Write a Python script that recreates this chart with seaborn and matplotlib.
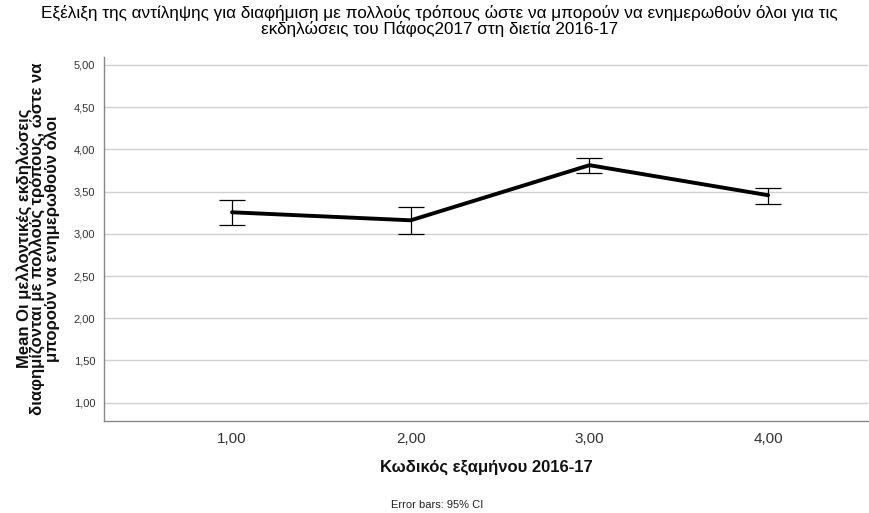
import matplotlib
matplotlib.use('Agg')
import matplotlib.pyplot as plt
import seaborn as sns

# values
codes = [1.0, 2.0, 3.0, 4.0]
tick_labels = ['1,00', '2,00', '3,00', '4,00']
means = [3.255, 3.16, 3.813, 3.457]
ci_low = [3.11, 3.0, 3.72, 3.354]
ci_high = [3.40, 3.32, 3.896, 3.548]
y_ticks = [1.0, 1.5, 2.0, 2.5, 3.0, 3.5, 4.0, 4.5, 5.0]
y_tick_labels = ['1,00', '1,50', '2,00', '2,50', '3,00', '3,50', '4,00', '4,50', '5,00']

sns.set_style('white')
plt.rcParams['font.family'] = ['Liberation Sans', 'DejaVu Sans']

fig = plt.figure(figsize=(8.7, 5.13), dpi=100)
ax = fig.add_axes([0.119, 0.180, 0.879, 0.709])

# gridlines
for yv in y_ticks:
    ax.axhline(yv, color='#d0d0d0', lw=1.0, zorder=0)

sns.lineplot(x=codes, y=means, ax=ax, color='black', lw=2.8, zorder=3)
yerr = [[m - lo for m, lo in zip(means, ci_low)],
        [hi - m for m, hi in zip(means, ci_high)]]
ax.errorbar(codes, means, yerr=yerr, fmt='none', ecolor='black',
            elinewidth=0.9, capsize=9.7, capthick=0.9, zorder=4)

ax.set_xlim(0.281, 4.56)
ax.set_ylim(0.787, 5.095)
ax.set_xticks(codes)
ax.set_xticklabels(tick_labels, fontsize=11, color='#333333')
ax.set_yticks(y_ticks)
ax.set_yticklabels(y_tick_labels, fontsize=8, color='#333333')
ax.tick_params(axis='both', length=0, pad=6)
ax.tick_params(axis='x', pad=8)

for s in ['top', 'right']:
    ax.spines[s].set_visible(False)
for s in ['left', 'bottom']:
    ax.spines[s].set_color('#888888')
    ax.spines[s].set_linewidth(1.0)

ax.set_xlabel('Κωδικός εξαμήνου 2016-17', fontsize=12, fontweight='bold',
              color='#111111', labelpad=10)
ax.set_ylabel('Mean Οι μελλοντικές εκδηλώσεις\n'
              'διαφημίζονται με πολλούς τρόπους, ώστε να\n'
              'μπορούν να ενημερωθούν όλοι',
              fontsize=12, fontweight='bold', color='#111111',
              linespacing=0.85, labelpad=10)

fig.text(0.505, 0.99,
         'Εξέλιξη της αντίληψης για διαφήμιση με πολλούς τρόπους ώστε να μπορούν να ενημερωθούν όλοι για τις\n'
         'εκδηλώσεις του Πάφος2017 στη διετία 2016-17',
         ha='center', va='top', fontsize=12.3, color='#000000', linespacing=0.95)
fig.text(0.503, 0.005, 'Error bars: 95% CI', ha='center', va='bottom',
         fontsize=8, color='#222222')

fig.savefig('out.png', dpi=100)
